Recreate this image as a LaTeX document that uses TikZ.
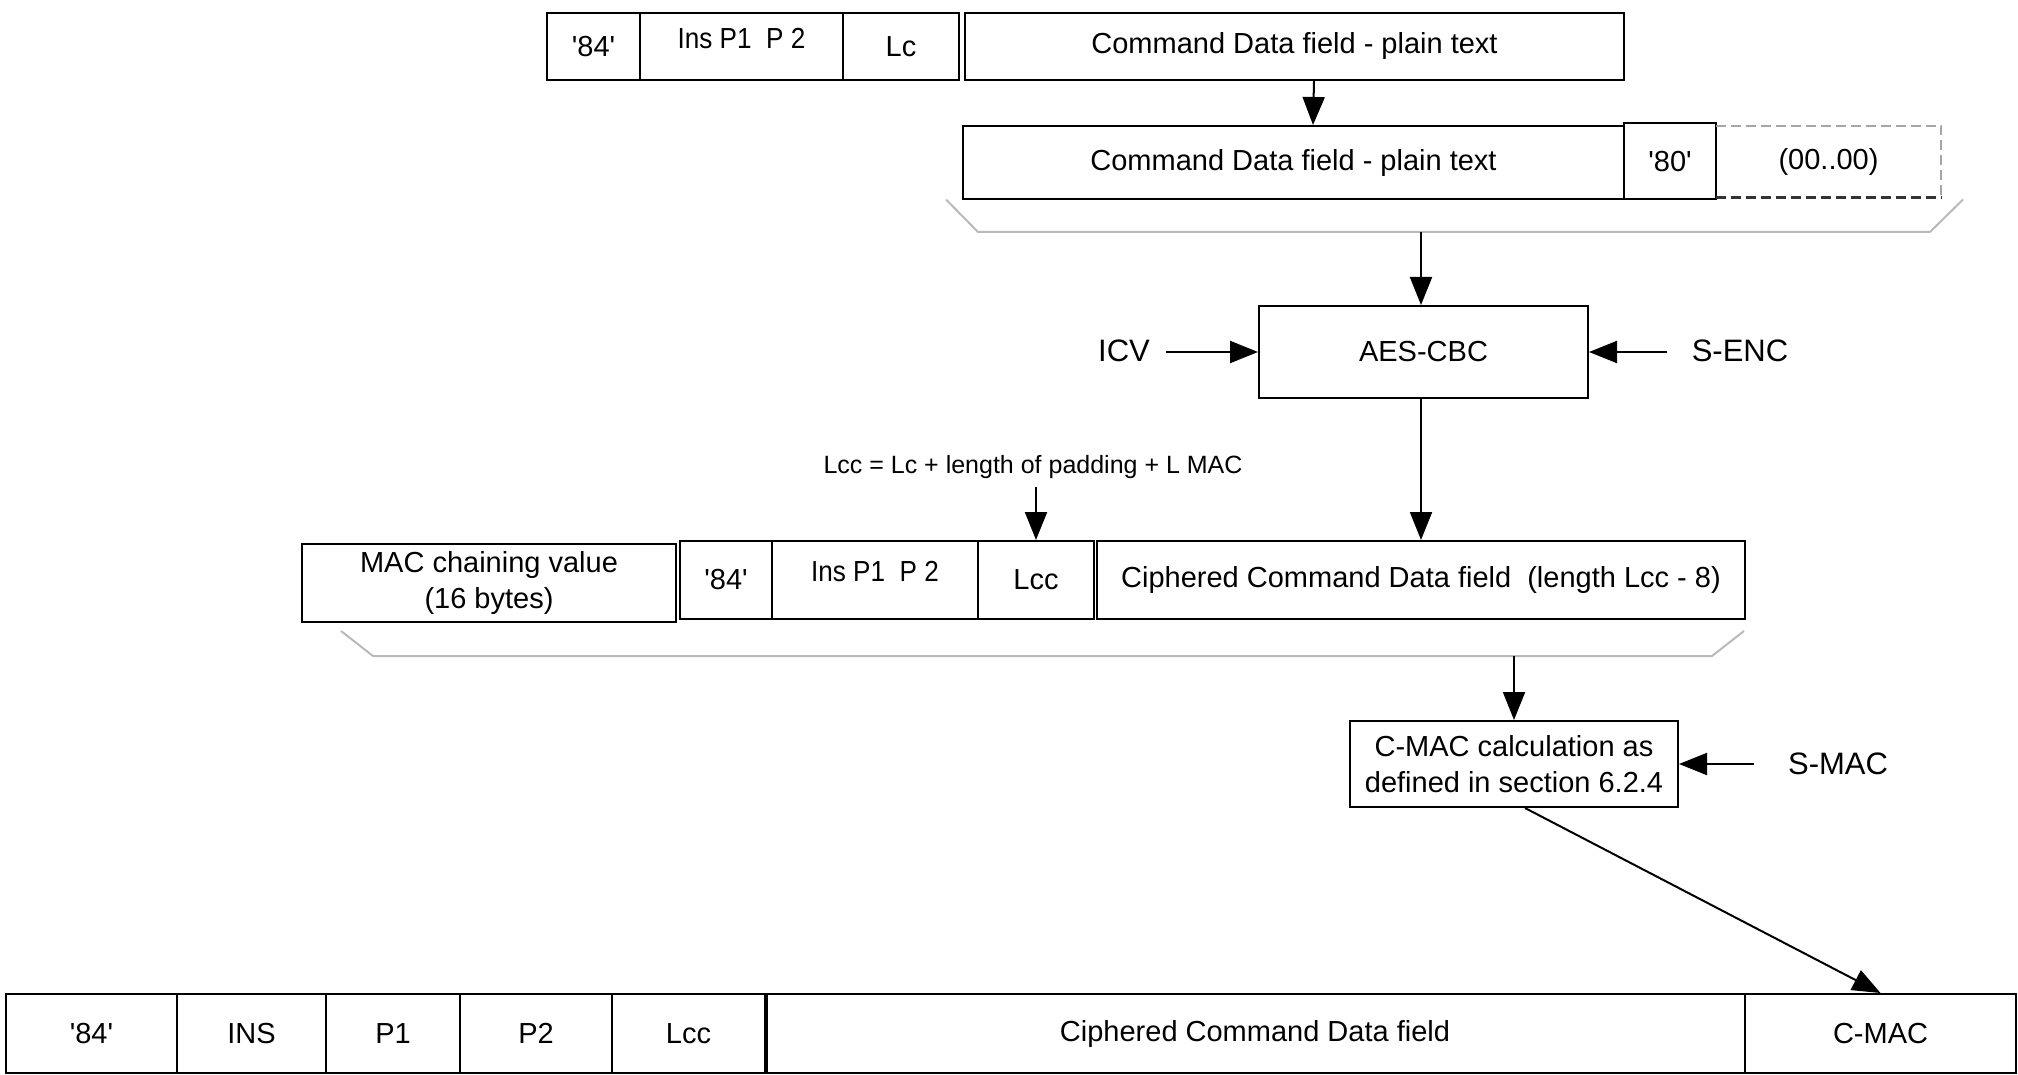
\documentclass[tikz,border=0pt]{standalone}
\usepackage{fontspec}
\setmainfont{Liberation Sans}[Ligatures=TeXOff]
\usetikzlibrary{arrows.meta}
\begin{document}
\begin{tikzpicture}[x=0.5pt,y=-0.5pt,
  box/.style={draw,line width=1pt,inner sep=0pt,align=center,font=\fontsize{14.5}{18}\selectfont},
  txt/.style={inner sep=0pt,font=\fontsize{14.5}{18}\selectfont},
  lbl/.style={inner sep=0pt,font=\fontsize{15.5}{18}\selectfont},
  small/.style={inner sep=0pt,font=\fontsize{12.5}{15}\selectfont},
  arr/.style={-{Triangle[length=14pt,width=11pt]},line width=1pt},
  brace/.style={draw=gray!55,line width=1pt}]
\useasboundingbox (0,0) rectangle (2018,1075);

% top row
\node[box,minimum width=46.5pt,minimum height=33.5pt] (n84a) at (593.5,46.5) {'84'};
\node[box,minimum width=101.5pt,minimum height=33.5pt] (insa) at (741.5,46.5) {};
\node[txt] (insat) at ([yshift=4pt]insa.center) {\scalebox{0.9}[1]{Ins P1\ \ P 2}};
\node[box,minimum width=58pt,minimum height=33.5pt] (lca) at (901,46.5) {Lc};
\node[box,minimum width=329.5pt,minimum height=33.5pt] (cmda) at (1294.5,46.5) {Command Data field - plain text};

% second row
\node[box,minimum width=330.5pt,minimum height=36.75pt] (cmdb) at (1293.5,162.75) {Command Data field - plain text};
\node[box,minimum width=46pt,minimum height=38pt] (p80) at (1670,161.5) {'80'};
\node[txt,minimum width=112.5pt,minimum height=35.5pt] (pad) at (1828.5,161.5) {(00..00)};
\draw[gray!70,line width=1pt,dash pattern=on 5pt off 2.5pt] (pad.north west) -- (pad.north east) -- (pad.south east);
\draw[black!80,line width=1.3pt,dash pattern=on 5pt off 2.5pt] (pad.south west) -- (pad.south east);
\draw[arr] ([xshift=9.75pt]cmda.south) -- ([xshift=9.75pt]cmdb.north);

% brace 1
\draw[brace] (946,199.5) -- (978,232) -- (1930,232) -- (1963,199.5);
\coordinate (b1) at (1421,232);

% AES
\node[box,minimum width=164.5pt,minimum height=46pt] (aes) at (1423.5,352) {AES-CBC};
\node[lbl] (icv) at (1124,351) {ICV};
\node[lbl] (senc) at (1740,351) {S-ENC};
\draw[arr] (b1) -- (b1 |- aes.north);
\draw[arr] ([xshift=8pt]aes.west -| icv.east) -- (aes.west);
\draw[arr] ([xshift=-12pt]aes.east -| senc.west) -- (aes.east);

% third row
\node[box,minimum width=187pt,minimum height=39pt] (mac) at (489,583) {MAC chaining value\\(16 bytes)};
\node[box,minimum width=46pt,minimum height=39pt] (n84b) at (726,580) {'84'};
\node[box,minimum width=103pt,minimum height=39pt] (insb) at (875,580) {};
\node[txt] (insbt) at ([yshift=4pt]insb.center) {\scalebox{0.9}[1]{Ins P1\ \ P 2}};
\node[box,minimum width=58pt,minimum height=39pt] (lccb) at (1036,580) {Lcc};
\node[box,minimum width=324pt,minimum height=39pt] (ciph) at (1421,580) {Ciphered Command Data field\ \ (length Lcc - 8)};
\node[small] (lcctxt) at (1033,467) {Lcc = Lc + length of padding + L MAC};
\draw[arr] ([yshift=-4pt]lcctxt.south -| lccb.north) -- (lccb.north);
\draw[arr] (aes.south -| ciph.north) -- (ciph.north);

% brace 2
\draw[brace] (341,631) -- (373,656) -- (1712,656) -- (1744,631);
\coordinate (b2) at (1514,656);

% C-MAC
\node[box,minimum width=164pt,minimum height=43pt] (cmac) at (1514,764) {C-MAC calculation as\\defined in section 6.2.4};
\node[lbl] (smac) at (1838,764) {S-MAC};
\draw[arr] (b2) -- (cmac.north);
\draw[arr] ([xshift=-17pt]cmac.east -| smac.west) -- (cmac.east);

% bottom row
\node[box,minimum width=85.5pt,minimum height=39.5pt] (c84) at (91.5,1033.5) {'84'};
\node[box,minimum width=74.5pt,minimum height=39.5pt] (cins) at (251.5,1033.5) {INS};
\node[box,minimum width=67pt,minimum height=39.5pt] (cp1) at (393,1033.5) {P1};
\node[box,minimum width=76pt,minimum height=39.5pt] (cp2) at (536,1033.5) {P2};
\node[box,minimum width=76.5pt,minimum height=39.5pt] (clcc) at (688.5,1033.5) {Lcc};
\node[box,minimum width=490pt,minimum height=39.5pt] (cciph) at (1255,1033.5) {Ciphered Command Data field};
\node[box,minimum width=135.5pt,minimum height=39.5pt] (ccmac) at (1880.5,1033.5) {C-MAC};
\draw[line width=1.6pt] (clcc.north east) -- (clcc.south east);
\draw[arr] ([xshift=5.5pt]cmac.south) -- (ccmac.north);
\end{tikzpicture}
\end{document}
